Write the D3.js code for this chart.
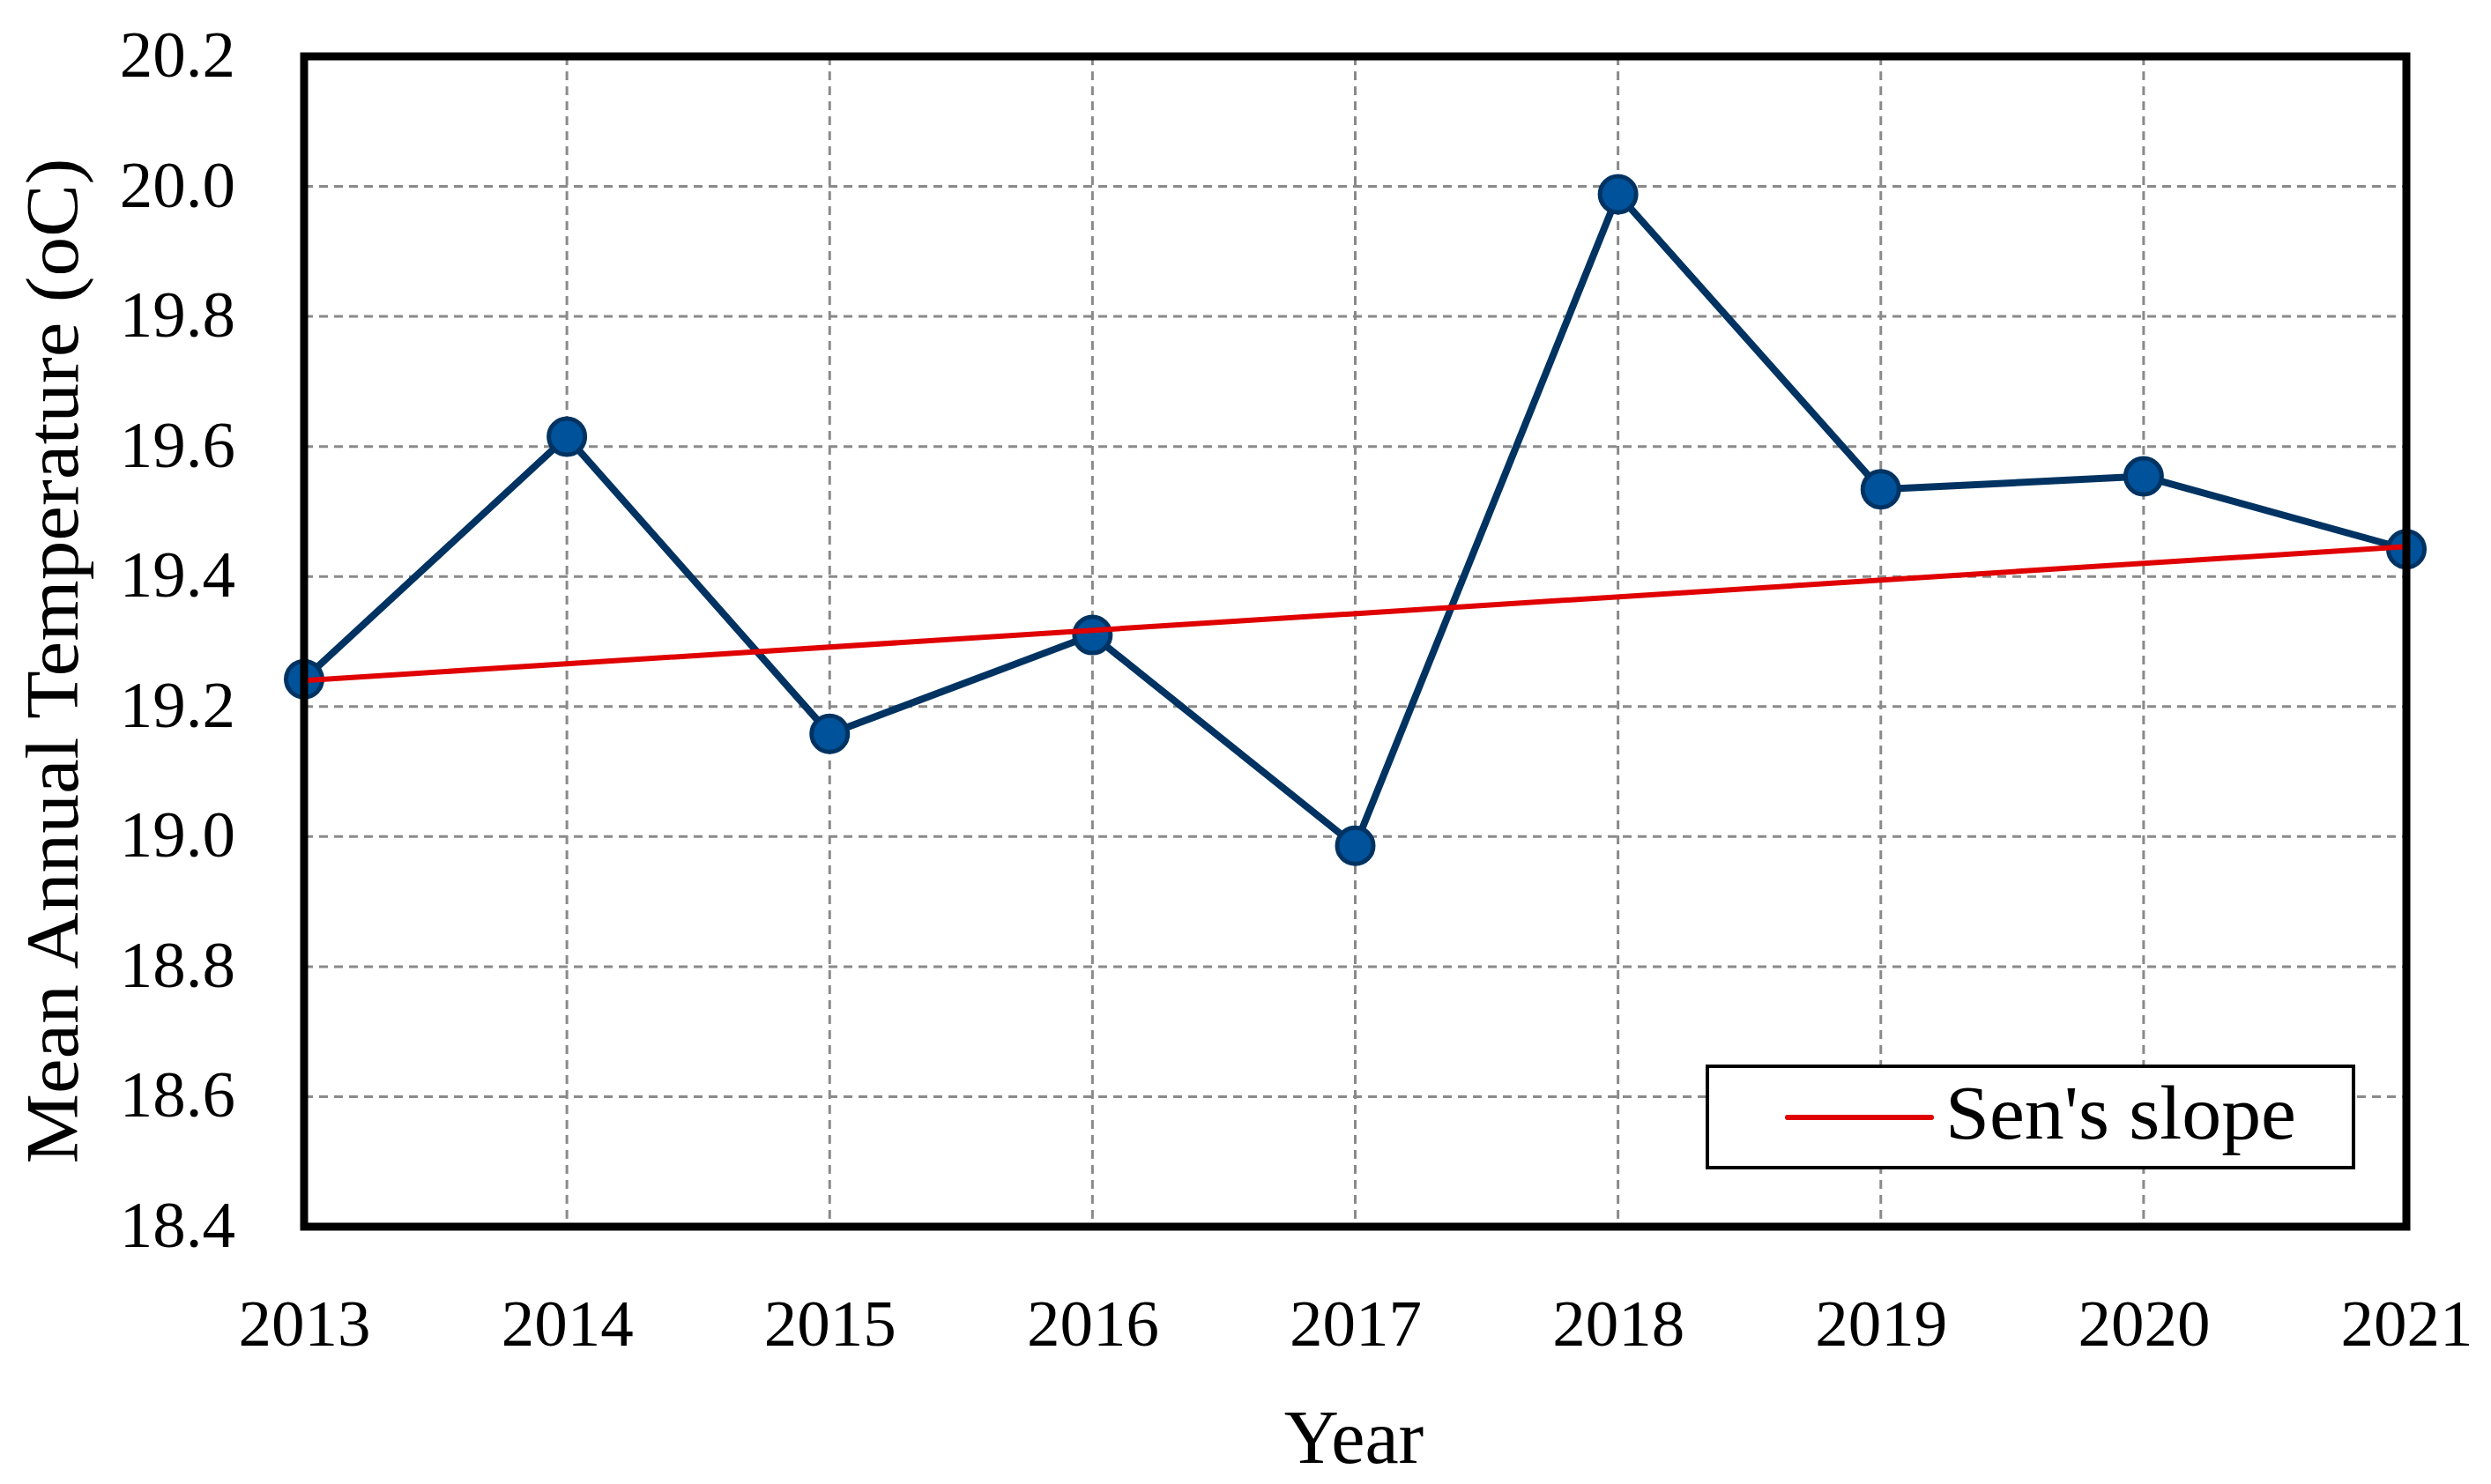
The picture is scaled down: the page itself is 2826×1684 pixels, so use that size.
<!DOCTYPE html>
<html>
<head>
<meta charset="utf-8">
<script src="https://cdn.jsdelivr.net/npm/d3@7"></script>
<style>
  html, body { margin: 0; padding: 0; background: #fff; }
  svg { display: block; }
</style>
</head>
<body>
<svg id="chart" width="2826" height="1684"></svg>
<script>
const years = [2013, 2014, 2015, 2016, 2017, 2018, 2019, 2020, 2021];
const meanTemp = [19.242, 19.615, 19.158, 19.310, 18.986, 19.988, 19.534, 19.554, 19.442];
const senYears = [2013, 2021];
const senValues = [19.24, 19.446];
const yTicks = [18.4, 18.6, 18.8, 19.0, 19.2, 19.4, 19.6, 19.8, 20.0, 20.2];
const xTicks = years;
const yTitle = "Mean Annual Temperature (oC)";
const xTitle = "Year";
const legendLabel = "Sen's slope";

const FONT = "'Liberation Serif', 'Times New Roman', serif";
const svg = d3.select("#chart");
const L = 345, R = 2730, T = 64, B = 1392;

const x = d3.scaleLinear().domain([2013, 2021]).range([L, R]);
const y = d3.scaleLinear().domain([18.4, 20.2]).range([B, T]);

// grid
const grid = svg.append("g").attr("stroke", "#8a8a8a").attr("stroke-width", 3)
  .attr("stroke-dasharray", "10,7");
grid.selectAll("line.h").data(yTicks.filter(v => v > 18.4 && v < 20.2)).enter().append("line")
  .attr("x1", L).attr("x2", R).attr("y1", d => y(d)).attr("y2", d => y(d));
grid.selectAll("line.v").data(xTicks.filter(v => v > 2013 && v < 2021)).enter().append("line")
  .attr("y1", T).attr("y2", B).attr("x1", d => x(d)).attr("x2", d => x(d));

// axes (labels only)
const yAxis = svg.append("g").attr("transform", `translate(${L},0)`)
  .call(d3.axisLeft(y).tickValues(yTicks).tickFormat(d3.format(".1f")).tickSize(0).tickPadding(78));
yAxis.select(".domain").remove();
yAxis.selectAll("text").attr("font-family", FONT).attr("font-size", 75).attr("fill", "#000").attr("dy", "0.3em");

const xAxis = svg.append("g").attr("transform", `translate(0,${B})`)
  .call(d3.axisBottom(x).tickValues(xTicks).tickFormat(d3.format("d")).tickSize(0).tickPadding(0));
xAxis.select(".domain").remove();
xAxis.selectAll("text").attr("font-family", FONT).attr("font-size", 75).attr("fill", "#000")
  .attr("y", 135).attr("dy", 0);

// series line
const pts = years.map((yr, i) => [yr, meanTemp[i]]);
svg.append("path").datum(pts)
  .attr("fill", "none").attr("stroke", "#003362").attr("stroke-width", 8).attr("stroke-linejoin", "round")
  .attr("d", d3.line().x(d => x(d[0])).y(d => y(d[1])));

svg.selectAll("circle.pt").data(pts).enter().append("circle")
  .attr("cx", d => x(d[0])).attr("cy", d => y(d[1])).attr("r", 20.5)
  .attr("fill", "#00529b").attr("stroke", "#003362").attr("stroke-width", 5);

// Sen's slope
const sen = senYears.map((yr, i) => [yr, senValues[i]]);
svg.append("path").datum(sen)
  .attr("fill", "none").attr("stroke", "#e00000").attr("stroke-width", 6)
  .attr("d", d3.line().x(d => x(d[0])).y(d => y(d[1])));

// frame
svg.append("rect").attr("x", L).attr("y", T).attr("width", R - L).attr("height", B - T)
  .attr("fill", "none").attr("stroke", "#000").attr("stroke-width", 9);

// legend
const lg = svg.append("g");
lg.append("rect").attr("x", 1937).attr("y", 1210).attr("width", 733).attr("height", 115)
  .attr("fill", "#fff").attr("stroke", "#000").attr("stroke-width", 4);
lg.append("line").attr("x1", 2028).attr("x2", 2191).attr("y1", 1268).attr("y2", 1268)
  .attr("stroke", "#e00000").attr("stroke-width", 6).attr("stroke-linecap", "round");
lg.append("text").attr("x", 2207).attr("y", 1292).attr("font-family", FONT).attr("font-size", 86)
  .attr("textLength", 398).attr("lengthAdjust", "spacingAndGlyphs")
  .attr("fill", "#000").text(legendLabel);

// titles
svg.append("text").attr("transform", "translate(88,750) rotate(-90)")
  .attr("text-anchor", "middle").attr("font-family", FONT).attr("font-size", 84)
  .attr("textLength", 1141).attr("lengthAdjust", "spacingAndGlyphs")
  .attr("fill", "#000").text(yTitle);
svg.append("text").attr("x", 1536).attr("y", 1660).attr("text-anchor", "middle")
  .attr("font-family", FONT).attr("font-size", 86).attr("fill", "#000").text(xTitle);
</script>
</body>
</html>
